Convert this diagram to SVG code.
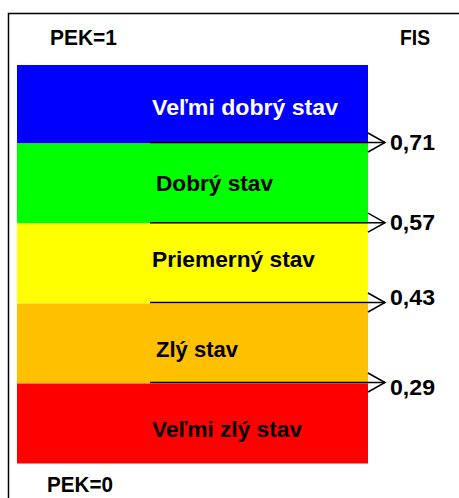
<svg xmlns="http://www.w3.org/2000/svg" width="459" height="498" viewBox="0 0 459 498">
  <style>
    .t { font-family: "Liberation Sans", Arial, sans-serif; font-weight: bold; font-size: 22px; fill: #000; }
    .w { fill: #fff; }
    .conn { stroke: #000; stroke-width: 1.5; fill: none; }
  </style>
  <defs>
    <marker id="arr" markerUnits="userSpaceOnUse" viewBox="0 0 18 21" refX="17" refY="10.5" markerWidth="18" markerHeight="21" orient="auto" overflow="visible">
      <path d="M0,1 L17,10.5 L0,20" fill="none" stroke="#000" stroke-width="1.5"/>
    </marker>
  </defs>
  <rect width="459" height="498" fill="#fff"/>
  <rect id="frame" x="8.5" y="13.5" width="470" height="500" fill="none" stroke="#000" stroke-width="1.5"/>

  <g id="pek1"><text class="t" x="50" y="45" textLength="67" lengthAdjust="spacingAndGlyphs">PEK=1</text></g>
  <g id="fis"><text class="t" x="400" y="45" textLength="30" lengthAdjust="spacingAndGlyphs">FIS</text></g>

  <g id="band-velmi-dobry">
    <rect x="17" y="65" width="351" height="78.5" fill="#0000FF"/>
    <text class="t w" x="152" y="115" textLength="186" lengthAdjust="spacingAndGlyphs">Veľmi dobrý stav</text>
  </g>
  <g id="band-dobry">
    <rect x="17" y="143.5" width="351" height="80" fill="#00FF00"/>
    <text class="t" x="156" y="191" textLength="117" lengthAdjust="spacingAndGlyphs">Dobrý stav</text>
  </g>
  <g id="band-priemerny">
    <rect x="17" y="223.5" width="351" height="80" fill="#FFFF00"/>
    <text class="t" x="152" y="267" textLength="163" lengthAdjust="spacingAndGlyphs">Priemerný stav</text>
  </g>
  <g id="band-zly">
    <rect x="17" y="303.5" width="351" height="80" fill="#FFC000"/>
    <text class="t" x="156" y="357" textLength="82" lengthAdjust="spacingAndGlyphs">Zlý stav</text>
  </g>
  <g id="band-velmi-zly">
    <rect x="17" y="383.5" width="351" height="80" fill="#FF0000"/>
    <text class="t" x="152" y="437" textLength="150" lengthAdjust="spacingAndGlyphs">Veľmi zlý stav</text>
  </g>

  <g id="pek0"><text class="t" x="47" y="492" textLength="66" lengthAdjust="spacingAndGlyphs">PEK=0</text></g>

  <g id="v071"><text class="t" x="390" y="149.5" textLength="45" lengthAdjust="spacingAndGlyphs">0,71</text></g>
  <g id="v057"><text class="t" x="390" y="229.5" textLength="45" lengthAdjust="spacingAndGlyphs">0,57</text></g>
  <g id="v043"><text class="t" x="390" y="305" textLength="45" lengthAdjust="spacingAndGlyphs">0,43</text></g>
  <g id="v029"><text class="t" x="390" y="395" textLength="45" lengthAdjust="spacingAndGlyphs">0,29</text></g>

  <g id="connectors">
    <line class="conn" x1="150" y1="142.5" x2="385" y2="142.5" marker-end="url(#arr)"/>
    <line class="conn" x1="150" y1="222.7" x2="385" y2="222.7" marker-end="url(#arr)"/>
    <line class="conn" x1="150" y1="302.5" x2="385" y2="302.5" marker-end="url(#arr)"/>
    <line class="conn" x1="150" y1="382.5" x2="385" y2="382.5" marker-end="url(#arr)"/>
  </g>
</svg>
